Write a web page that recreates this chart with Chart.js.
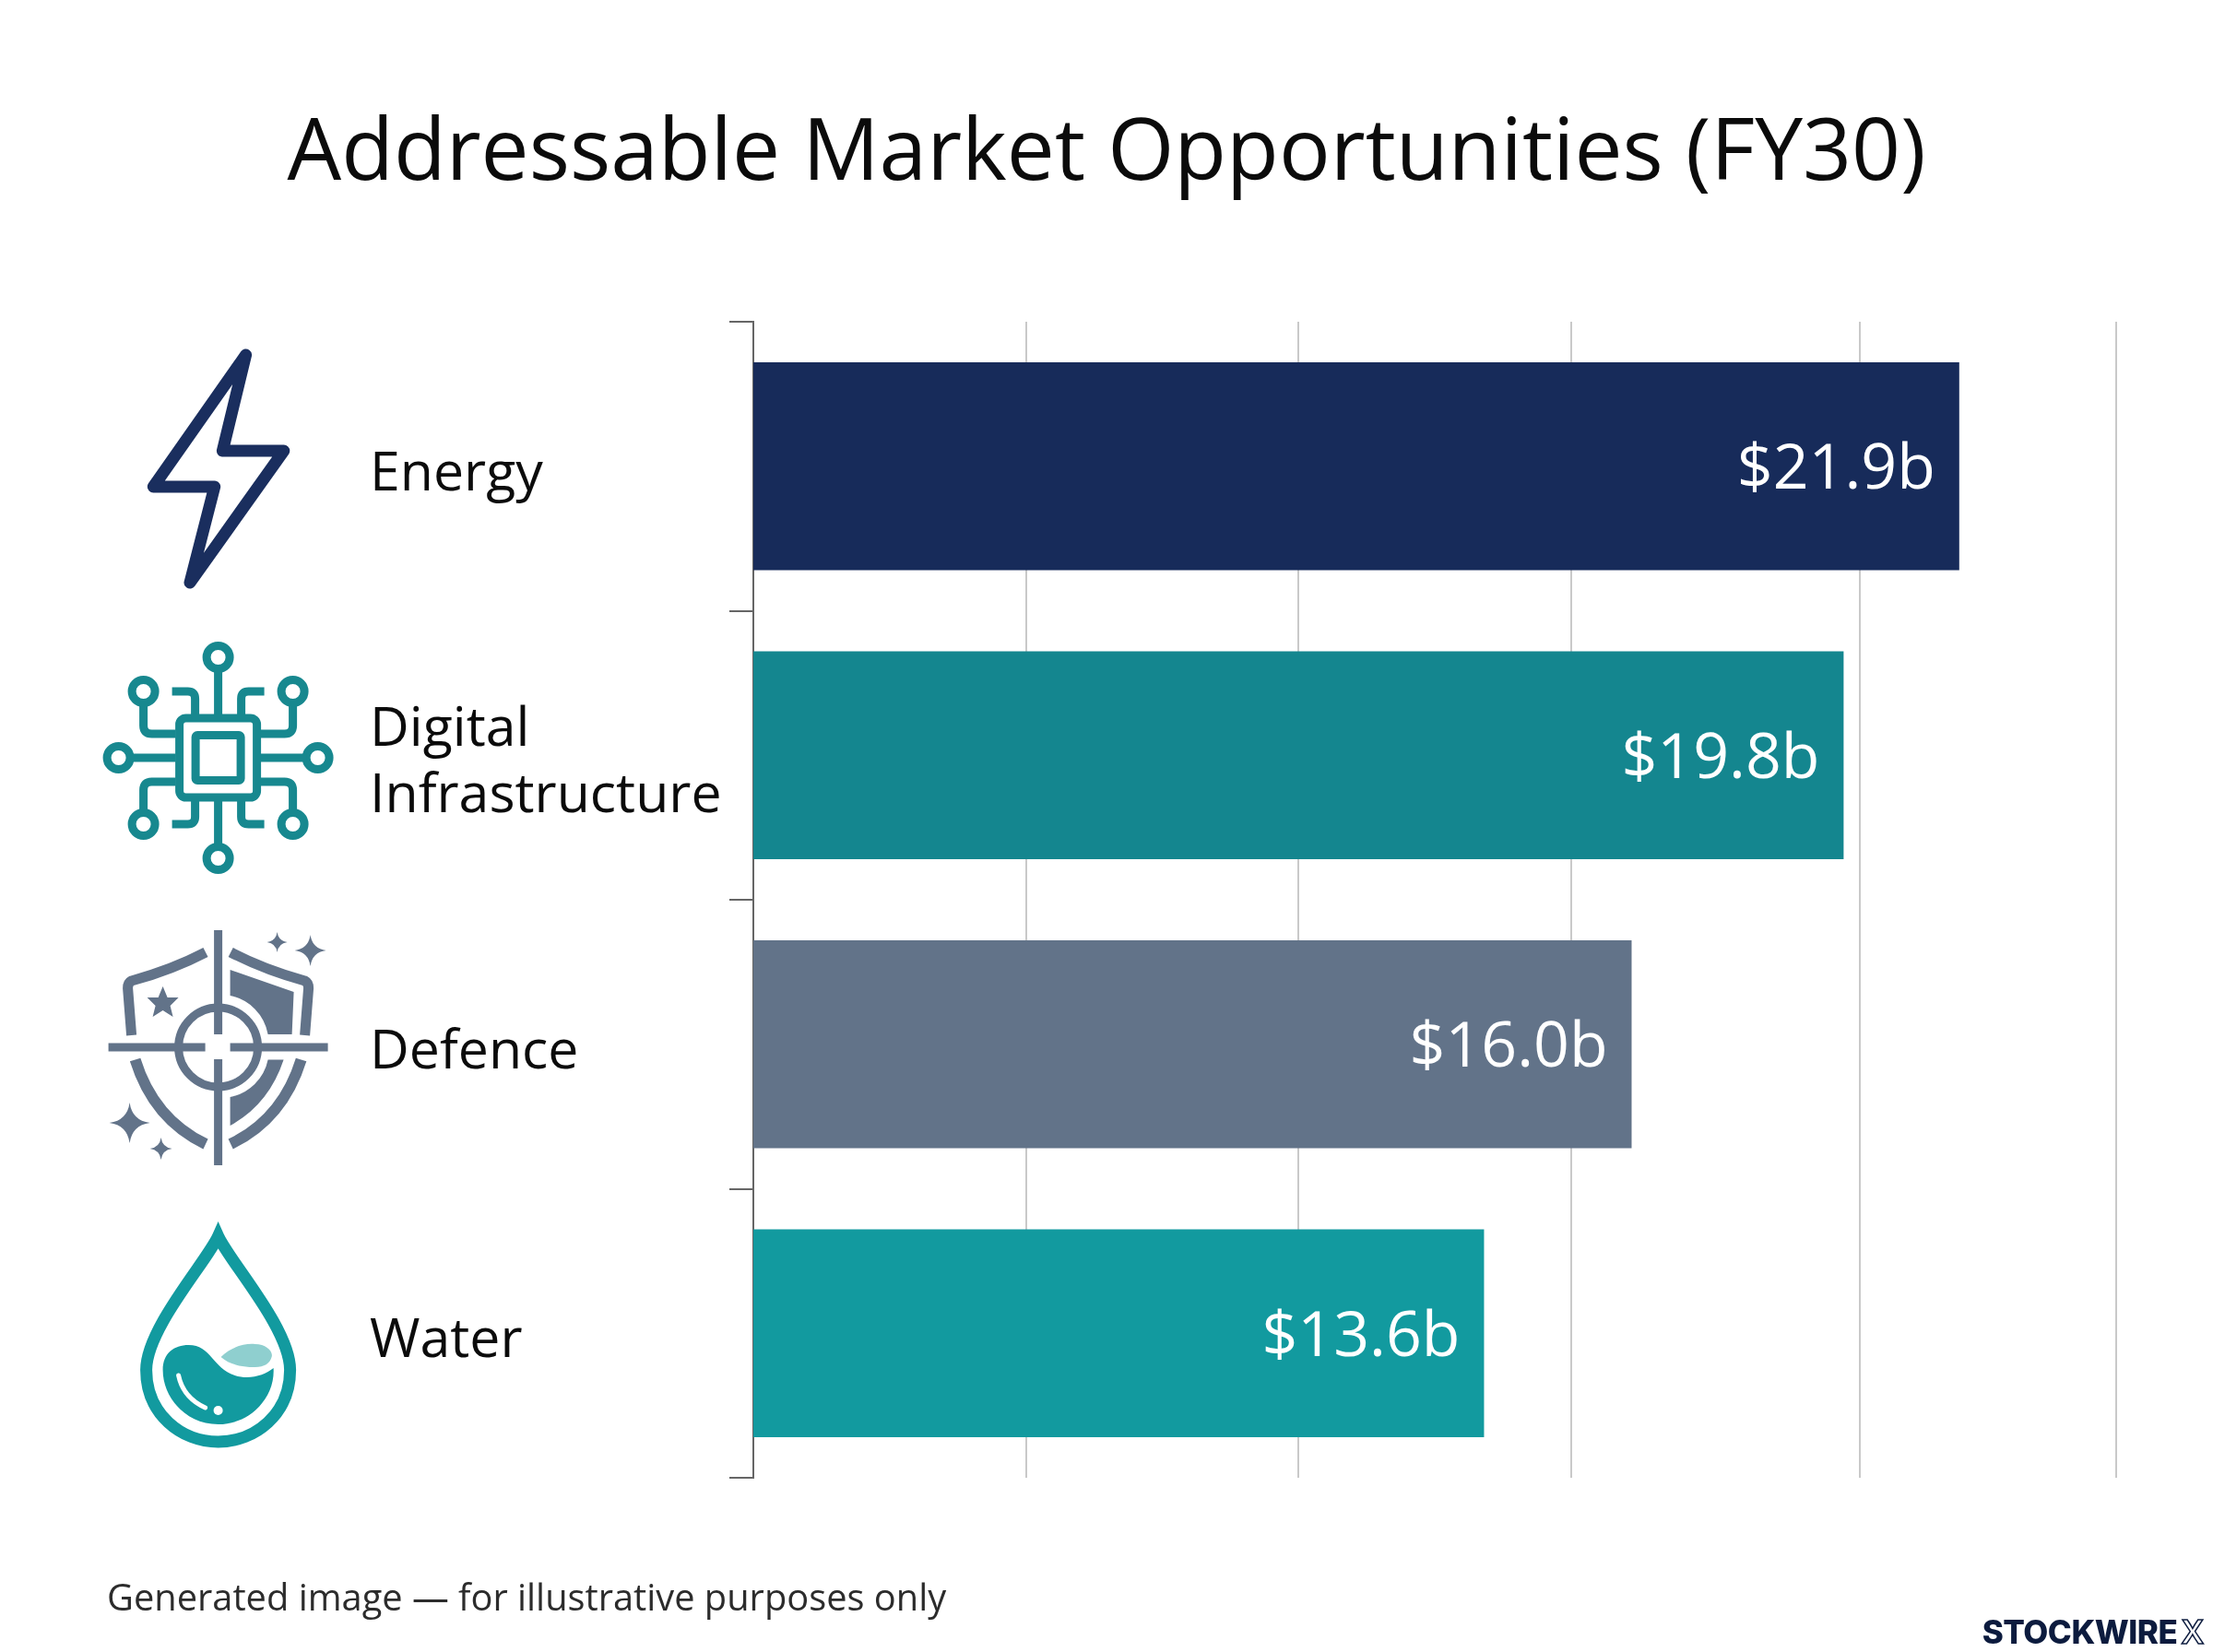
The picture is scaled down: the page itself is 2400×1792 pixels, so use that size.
<!DOCTYPE html>
<html lang="en">
<head>
<meta charset="UTF-8">
<title>Addressable Market Opportunities (FY30)</title>
<script src="https://cdn.jsdelivr.net/npm/chart.js"></script>
<style>
    body { margin: 0; background: #fff; font-family: "Open Sans", sans-serif; }
    #wrap { position: relative; width: 2400px; height: 1792px; overflow: hidden; }
    canvas { position: absolute; left: 0; top: 0; }
    h1 { position: absolute; left: 0; width: 2400px; top: 89px; margin: 0; text-align: center;
         font-size: 92.8px; line-height: 140px; font-weight: 400; color: #0b0b0b; }
    #note { position: absolute; left: 116px; top: 1704px; font-size: 39.8px; line-height: 56px; color: #2c2c2c; }
    #brand { position: absolute; right: 10px; top: 1748px; font: 800 35px/44px Inter, sans-serif; color: #0c1b3e; letter-spacing: -0.5px; }
    #brand span { color: transparent; -webkit-text-stroke: 1.5px #0c1b3e; font-weight: 600; margin-left: 4px; }
    svg { position: absolute; left: 0; top: 0; }
</style>
</head>
<body>
<div id="wrap">
    <canvas id="myChart" width="2400" height="1792"></canvas>
    <h1>Addressable Market Opportunities (FY30)</h1>
    <div id="note">Generated image — for illustrative purposes only</div>
    <div id="brand">STOCKWIRE<span>X</span></div>
    <svg width="2400" height="1792" viewBox="0 0 2400 1792">
        <defs>
            <path id="spark" d="M0,-1 Q.12,-.12 1,0 Q.12,.12 0,1 Q-.12,.12 -1,0 Q-.12,-.12 0,-1Z"/>
        </defs>
        <!-- energy -->
        <path d="M266.6,385 L241.4,489 H307.8 L206,632 L232.7,528 H166.3Z" fill="none" stroke="#1a2e5e" stroke-width="13" stroke-linejoin="round"/>
        <!-- digital infrastructure -->
        <g transform="translate(236.6,822)" fill="none" stroke="#17888f" stroke-width="9">
            <rect x="-42" y="-43" width="84" height="86" rx="7"/>
            <rect x="-24.5" y="-24.5" width="49" height="49" rx="2"/>
            <circle cx="0" cy="-109" r="12.5"/><circle cx="0" cy="109" r="12.5"/>
            <circle cx="-108" cy="0" r="12.5"/><circle cx="108" cy="0" r="12.5"/>
            <circle cx="-81" cy="-72" r="12.5"/><circle cx="81" cy="-72" r="12.5"/>
            <circle cx="-81" cy="72" r="12.5"/><circle cx="81" cy="72" r="12.5"/>
            <path d="M0,-97V-47M0,97V47M-96,0H-46M96,0H46"/>
            <path d="M-81,-60V-35Q-81,-26 -72,-26H-46M81,-60V-35Q81,-26 72,-26H46M-81,60V35Q-81,26 -72,26H-46M81,60V35Q81,26 72,26H46"/>
            <path d="M-50,-72H-33Q-25,-72 -25,-64V-47M50,-72H33Q25,-72 25,-64V-47M-50,72H-33Q-25,72 -25,64V47M50,72H33Q25,72 25,64V47"/>
        </g>
        <!-- defence -->
        <g transform="translate(236.6,1136)" fill="#627389">
            <g fill="none" stroke="#627389">
                <path stroke-width="11" d="M-13.6,-103 Q-50,-84 -94,-72 Q-98,-70 -98,-64 L-94,-13"/>
                <path stroke-width="11" d="M13.6,-103 Q50,-84 94,-72 Q98,-70 98,-64 L94,-13"/>
                <path stroke-width="12" d="M-90,13.5 Q-70,78 -13.6,105"/>
                <path stroke-width="12" d="M90,13.5 Q70,78 13.6,105"/>
                <circle r="43" stroke-width="9"/>
                <path stroke-width="9" d="M0,-127V-14M0,13V128M-119,0H-14M13,0H119"/>
            </g>
            <path d="M13,-84 L82,-60 L80,-14 H54 A52,52 0 0 0 13,-56Z"/>
            <path d="M71,13.5 H54 A52,52 0 0 1 13,54 V85 Q55,62 71,13.5Z"/>
            <path d="M-60,-66 L-55,-54 L-43,-54 L-52,-45 L-49,-33 L-60,-40 L-71,-33 L-68,-45 L-77,-54 L-65,-54Z"/>
            <use href="#spark" transform="translate(64,-114) scale(11)"/>
            <use href="#spark" transform="translate(100,-105) scale(17)"/>
            <use href="#spark" transform="translate(-96,82) scale(22)"/>
            <use href="#spark" transform="translate(-62,110) scale(12)"/>
        </g>
        <!-- water -->
        <g transform="translate(236.6,1486)">
            <path d="M0,-145 C-12,-118 -78,-45 -78,0 C-78,48 -40,78 0,78 C40,78 78,48 78,0 C78,-45 12,-118 0,-145Z" fill="none" stroke="#129a9f" stroke-width="13" stroke-linejoin="miter" stroke-miterlimit="8"/>
            <path d="M-60,0 C-60,-18 -48,-27 -32,-27 C-8,-27 -6,-2 18,6 C34,11 50,6 60,-2 C62,30 35,59 0,59 C-35,59 -60,30 -60,0Z" fill="#129a9f"/>
            <path d="M3,-14 C15,-26 30,-29 40,-28 C52,-28 60,-20 58,-14 C56,-7 50,-3 40,-3 C25,-3 12,-6 3,-14Z" fill="#8fcfcf"/>
            <path d="M-43,6 Q-38,30 -14,41" fill="none" stroke="#fff" stroke-width="5" stroke-linecap="round"/>
            <circle cx="0" cy="44" r="5" fill="#fff"/>
        </g>
    </svg>
</div>
<script>
    const categories = [['Energy'], ['Digital', 'Infrastructure'], ['Defence'], ['Water']];
    // bar lengths as drawn in the picture, water's bar is a bit shorter than its printed figure
    const barLengths = [21.9, 19.8, 15.95, 13.27];
    const printedValues = ['$21.9b', '$19.8b', '$16.0b', '$13.6b'];
    const barColors = ['#172b5a', '#14868f', '#627389', '#129a9f'];
    // unlabelled grid lines, they are not evenly spaced
    const gridTicks = [4.95, 9.9, 14.85, 20.1, 24.75];

    // value text inside the bar end
    const valueLabels = {
        id: 'valueLabels',
        afterDatasetsDraw(chart) {
            const ctx = chart.ctx;
            const bars = chart.getDatasetMeta(0).data;
            ctx.save();
            ctx.fillStyle = '#ffffff';
            ctx.font = '68px "Open Sans"';
            ctx.textAlign = 'right';
            ctx.textBaseline = 'middle';
            bars.forEach((bar, i) => {
                ctx.fillText(printedValues[i], bar.x - 26, bar.y + 5);
            });
            ctx.restore();
        }
    };

    new Chart(document.getElementById('myChart').getContext('2d'), {
        type: 'bar',
        data: {
            labels: categories,
            datasets: [{
                data: barLengths,
                backgroundColor: barColors,
                borderWidth: 0,
                barPercentage: 0.72,
                categoryPercentage: 1
            }]
        },
        plugins: [valueLabels],
        options: {
            indexAxis: 'y',
            responsive: false,
            devicePixelRatio: 1,
            animation: false,
            layout: { padding: { left: 401, top: 349, right: 105, bottom: 189 } },
            plugins: { legend: { display: false }, tooltip: { enabled: false } },
            scales: {
                x: {
                    min: 0,
                    max: 24.75,
                    afterBuildTicks(axis) { axis.ticks = gridTicks.map(v => ({ value: v })); },
                    afterFit(axis) { axis.height = 0; },
                    border: { display: false },
                    grid: { color: '#c9c9c9', lineWidth: 2, drawTicks: false },
                    ticks: { display: false }
                },
                y: {
                    afterFit(axis) { axis.width = 416; },
                    border: { color: '#666666', width: 2 },
                    grid: { drawOnChartArea: false, color: '#666666', lineWidth: 2, tickLength: 26, offset: true },
                    ticks: {
                        crossAlign: 'far',
                        color: '#0b0b0b',
                        font: { family: '"Open Sans"', size: 59, lineHeight: 1.22 },
                        padding: 0,
                        labelOffset: 9,
                        autoSkip: false
                    }
                }
            }
        }
    });
</script>
</body>
</html>
